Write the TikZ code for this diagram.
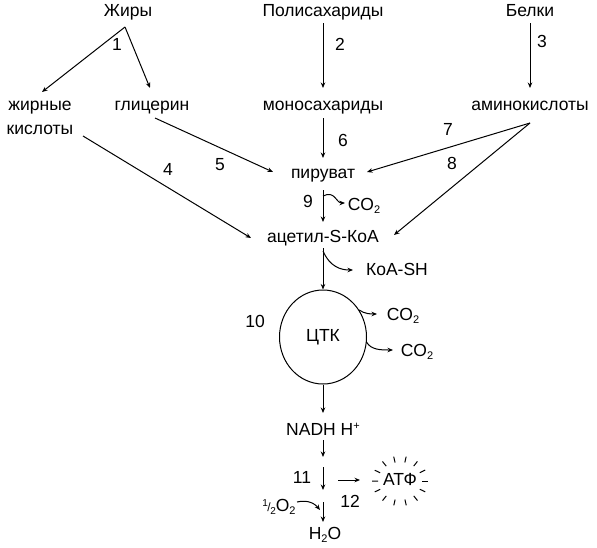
\documentclass[tikz,border=0pt]{standalone}
\usepackage{fontspec}
\setmainfont{Liberation Sans}
\usetikzlibrary{calc,arrows.meta,shapes.geometric}
\newcommand{\lowtwo}{\raisebox{-0.3ex}{\fontsize{11}{11}\selectfont 2}}
\newcommand{\hiplus}{\raisebox{0.6ex}{\fontsize{11}{11}\selectfont +}}
\newcommand{\halfnum}{\raisebox{0.55ex}{\fontsize{10}{10}\selectfont 1}\kern-0.5pt{\fontsize{12}{12}\selectfont/}\kern-0.5pt\raisebox{-0.3ex}{\fontsize{10}{10}\selectfont 2}}
\begin{document}
\begin{tikzpicture}[x=1pt,y=-1pt,
  txt/.style={font=\fontsize{17.5}{21}\selectfont, inner sep=0pt, text height=12.5pt, text depth=3.5pt},
  arr/.style={-{Stealth[length=5.5pt,width=4.5pt]}, line width=1pt},
  ray/.style={line width=1pt}]
\useasboundingbox (0,0) rectangle (597,547);

% substances
\node[txt] (fat) at (128,12) {Жиры};
\node[txt] (poly) at (323,12) {Полисахариды};
\node[txt] (prot) at (530,12) {Белки};
\node[font=\fontsize{17.5}{24}\selectfont, align=center, inner sep=0pt] (fa) at (40,118) {жирные\\кислоты};
\node[txt] (gly) at (152,106) {глицерин};
\node[txt] (mono) at (323,106) {моносахариды};
\node[txt] (amino) at (530,106) {аминокислоты};
\node[txt] (pyr) at (323,174) {пируват};
\node[txt] (acet) at (323,238) {ацетил-S-КоА};
\node[txt] (co2a) at (364,206) {CO\lowtwo};
\node[txt] (koa) at (397,271) {КоА-SH};
\node[draw, ellipse, line width=1pt, minimum width=87pt, minimum height=94pt, inner sep=0pt, font=\fontsize{17.5}{21}\selectfont] (tca) at (323,337) {ЦТК};
\node[txt] (co2b) at (403,316) {CO\lowtwo};
\node[txt] (co2c) at (417,352) {CO\lowtwo};
\node[txt] (nadh) at (323,431) {NADH H\hiplus};
\node[txt] (atp) at (400,481) {АТФ};
\node[txt] (half) at (279,507) {\halfnum O\lowtwo};
\node[txt] (h2o) at (325,535) {H\lowtwo O};

% step numbers
\node[txt] (n1) at (117,46) {1};
\node[txt] (n2) at (340,46) {2};
\node[txt] (n3) at (542,43) {3};
\node[txt] (n4) at (168,171) {4};
\node[txt] (n5) at (220,166) {5};
\node[txt] (n6) at (343,142) {6};
\node[txt] (n7) at (448,131) {7};
\node[txt] (n8) at (452,165) {8};
\node[txt] (n9) at (308,203) {9};
\node[txt] (n10) at (255,323) {10};
\node[txt] (n11) at (302,479) {11};
\node[txt] (n12) at (350,503) {12};

% connectors
\draw[arr] ($(fat)+(-3,15)$) -- ($(fa)+(2,-26)$);
\draw[arr] ($(fat)+(-3,15)$) -- ($(gly)+(-2,-18)$);
\draw[arr] ($(poly)+(0,11)$) -- ($(mono)+(0,-18)$);
\draw[arr] ($(prot)+(0,11)$) -- ($(amino)+(0,-18)$);
\draw[arr] ($(mono)+(0,12)$) -- ($(pyr)+(0,-16)$);
\draw[arr] ($(gly)+(3,12)$) -- ($(pyr)+(-50,-2)$);
\draw[arr] ($(fa)+(43,18)$) -- ($(acet)+(-72,0)$);
\draw[arr] ($(amino)+(0,17)$) -- ($(pyr)+(44,-2)$);
\draw[arr] ($(amino)+(0,17)$) -- ($(acet)+(71,-3)$);
\draw[arr] ($(pyr)+(0,16)$) -- ($(acet)+(0,-16)$);
\draw[arr] ($(pyr)+(0,22)$) .. controls ($(pyr)+(12,16)$) and ($(co2a)+(-28,-3)$) .. ($(co2a)+(-19,-3)$);
\draw[arr] ($(acet)+(0,10)$) -- (tca.north);
\draw[arr] ($(acet)+(0,13)$) .. controls ($(acet)+(7,29)$) and ($(koa)+(-56,-1)$) .. ($(koa)+(-44,-1)$);
\draw[arr] ($(tca)+(36,-27)$) .. controls ($(tca)+(42,-23)$) and ($(co2b)+(-32,-2)$) .. ($(co2b)+(-26,-2)$);
\draw[arr] ($(tca)+(43.5,5)$) .. controls ($(tca)+(48,13)$) and ($(co2c)+(-36,-2)$) .. ($(co2c)+(-24,-2)$);
\draw[arr] (tca.south) -- ($(nadh)+(0,-18)$);
\draw[arr] ($(nadh)+(0,9)$) -- ($(nadh)+(0,26)$);
\draw[arr] ($(nadh)+(0,36)$) -- ($(nadh)+(0,59)$);
\draw[arr] ($(nadh)+(0,71)$) -- ($(h2o)+(-2,-13)$);
\draw[arr] ($(half)+(18,-5)$) .. controls ($(half)+(30,-8)$) and ($(h2o)+(-9,-30)$) .. ($(h2o)+(-5,-25)$);
\draw[arr] ($(atp)+(-62,-1)$) -- ($(atp)+(-40,-1)$);

% burst around ATP
\foreach \a in {0,25.7,...,359} {
  \draw[ray] ($(atp)+({22*cos(\a)},{19*sin(\a)})$) -- ($(atp)+({28*cos(\a)},{25*sin(\a)})$);
}
\end{tikzpicture}
\end{document}
